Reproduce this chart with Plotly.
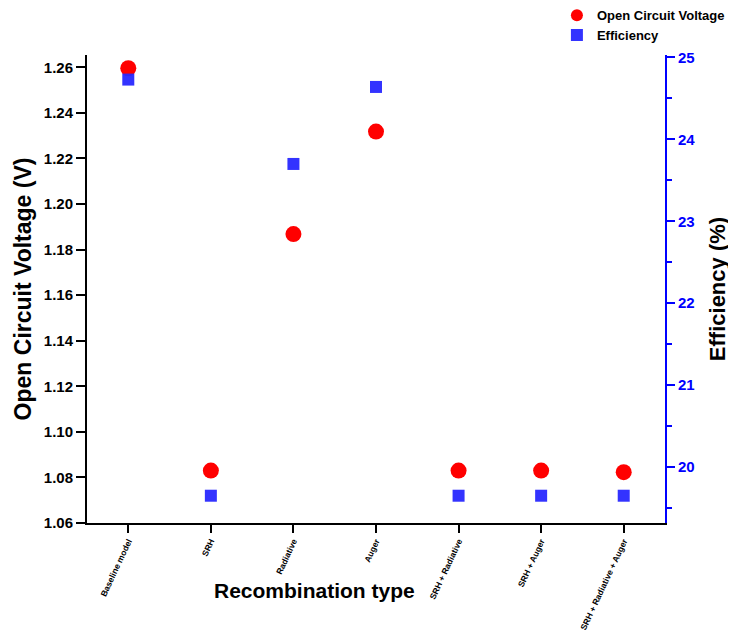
import plotly.graph_objects as go

categories = ["Baseline model", "SRH", "Radiative", "Auger", "SRH + Radiative",
              "SRH + Auger", "SRH + Radiative + Auger"]
voc = [1.2596, 1.0830, 1.1868, 1.2318, 1.0830, 1.0830, 1.0823]
efficiency = [24.73, 19.65, 23.70, 24.64, 19.65, 19.65, 19.65]
voc_ticks = [1.06, 1.08, 1.10, 1.12, 1.14, 1.16, 1.18, 1.20, 1.22, 1.24, 1.26]
eff_ticks = [20, 21, 22, 23, 24, 25]

xpos = list(range(len(categories)))
FONT = "Liberation Sans, Arial, sans-serif"

fig = go.Figure()
fig.add_trace(go.Scatter(
    x=xpos, y=voc, mode="markers", name="<b>Open Circuit Voltage</b>",
    marker=dict(symbol="circle", size=16, color="#ff0000", line=dict(width=0)),
    yaxis="y"))
fig.add_trace(go.Scatter(
    x=xpos, y=efficiency, mode="markers", name="<b>Efficiency</b>",
    marker=dict(symbol="square", size=12, color="rgba(40,40,255,0.95)", line=dict(width=0)),
    yaxis="y2"))

fig.update_layout(
    width=728, height=627,
    margin=dict(l=79, r=71, t=47, b=112, autoexpand=False),
    paper_bgcolor="white", plot_bgcolor="white",
    font=dict(family=FONT, color="black"),
    showlegend=True,
    legend=dict(x=0.813, y=1.117, xanchor="left", yanchor="top",
                font=dict(family=FONT, size=13, color="black"),
                bgcolor="rgba(0,0,0,0)", itemsizing="constant",
                tracegroupgap=0),
    xaxis=dict(
        range=[-0.5, 6.5], tickmode="array", tickvals=xpos,
        ticktext=["<b>%s</b>" % c for c in categories],
        tickangle=-65, tickfont=dict(size=8.5, family=FONT),
        showline=True, linecolor="black", linewidth=2,
        ticks="outside", ticklen=8, tickwidth=2, tickcolor="black",
        showgrid=False, zeroline=False),
    yaxis=dict(
        range=[1.06, 1.2654], tickmode="array", tickvals=voc_ticks,
        ticktext=["<b>%.2f</b>" % v for v in voc_ticks],
        tickfont=dict(size=15, family=FONT),
        showline=True, linecolor="black", linewidth=2,
        ticks="outside", ticklen=9, tickwidth=2, tickcolor="black",
        showgrid=False, zeroline=False,
        title=dict(text="<b>Open Circuit Voltage (V)</b>", font=dict(size=23, family=FONT),
                   standoff=6)),
    yaxis2=dict(
        range=[19.317, 25.03], overlaying="y", side="right",
        tickmode="array", tickvals=eff_ticks,
        ticktext=["<b>%d</b>" % v for v in eff_ticks],
        tickfont=dict(size=15, family=FONT, color="#0000ff"),
        showline=True, linecolor="#0000ff", linewidth=2,
        ticks="outside", ticklen=8, tickwidth=2, tickcolor="#0000ff",
        minor=dict(dtick=0.5, tick0=19.5, ticks="outside", ticklen=5, tickwidth=2,
                   tickcolor="#0000ff"),
        showgrid=False, zeroline=False,
        title=dict(text="<b>Efficiency (%)</b>", font=dict(size=22, family=FONT, color="black"),
                   standoff=15)),
    annotations=[dict(text="<b>Recombination type</b>", x=0.394, y=-0.1446,
                      xref="paper", yref="paper", xanchor="center", yanchor="middle",
                      showarrow=False, font=dict(size=21, family=FONT, color="black"))],
)

fig.write_html("out.html")
